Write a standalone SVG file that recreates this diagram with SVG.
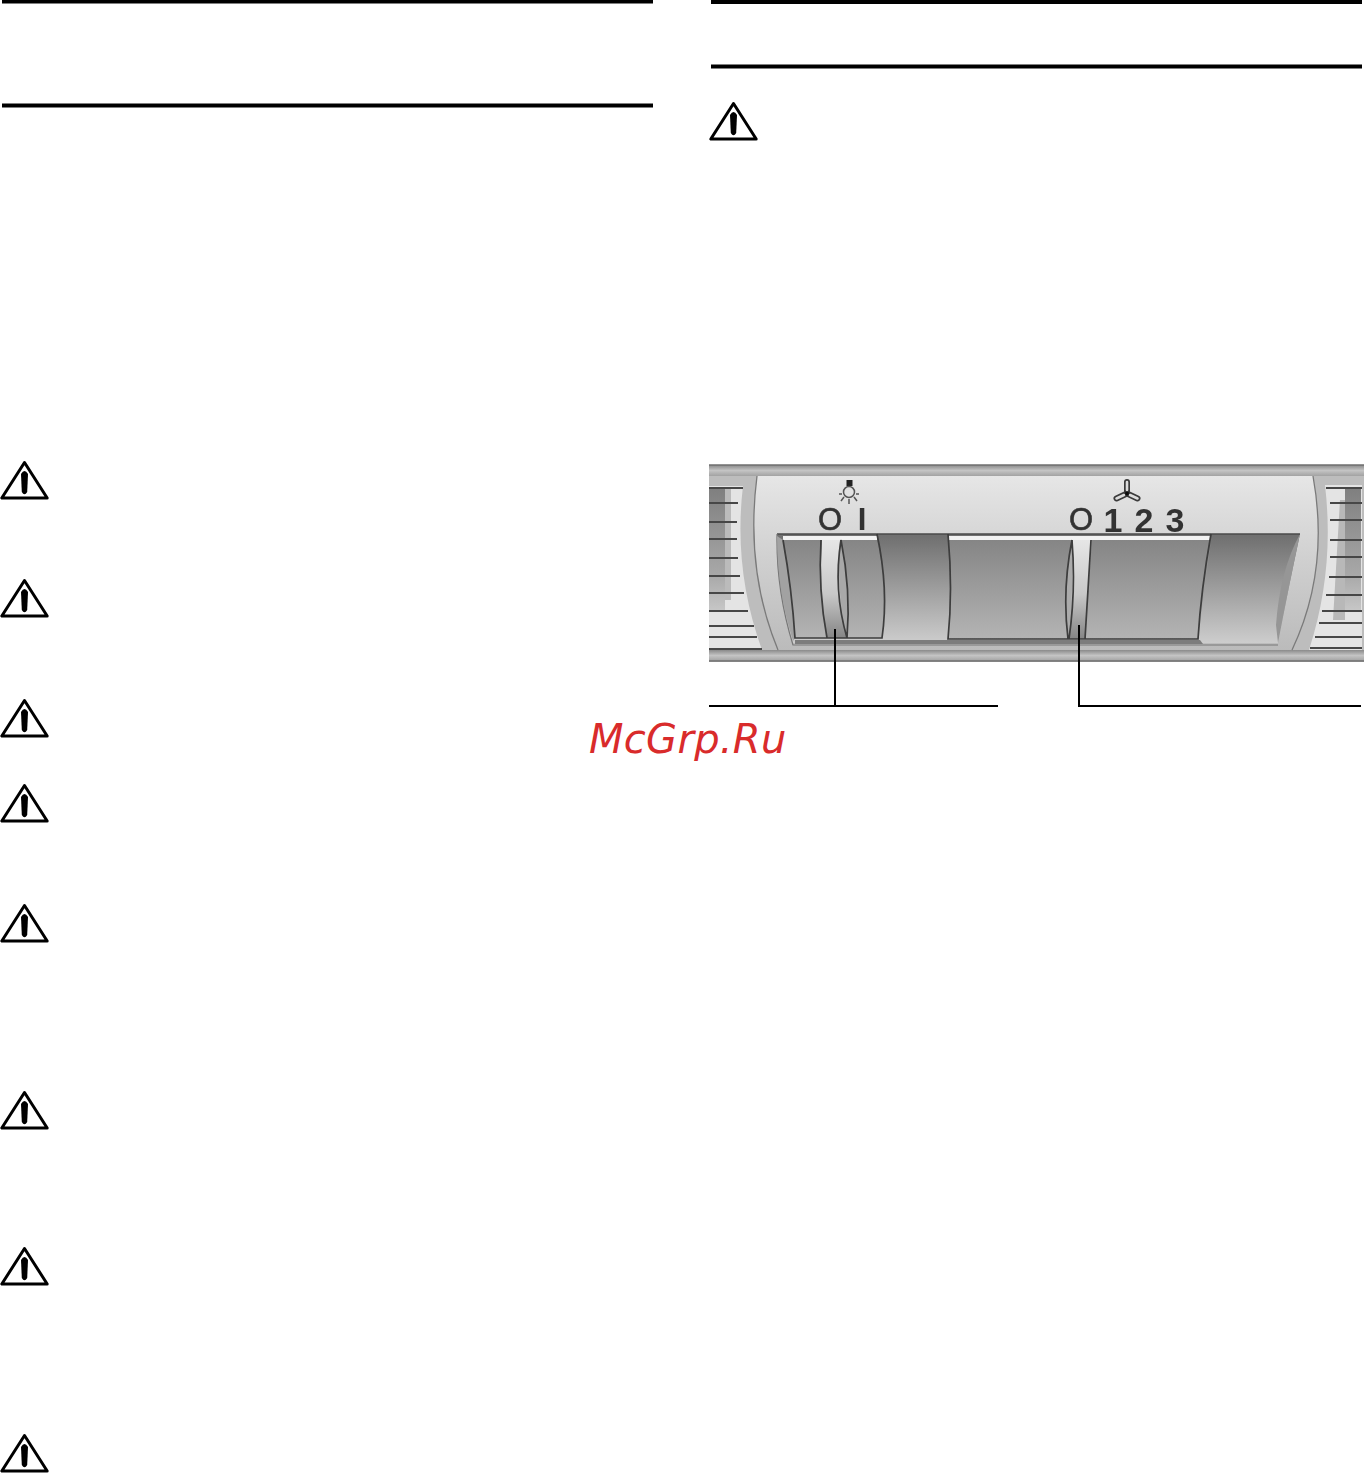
<svg xmlns="http://www.w3.org/2000/svg" xmlns:xlink="http://www.w3.org/1999/xlink" width="1364" height="1475" viewBox="0 0 1364 1475">
<style>
.rule{stroke:#000;stroke-width:4;fill:none}
.lead{stroke:#000;stroke-width:2;fill:none}
.edge{stroke:#3c3c3c;stroke-width:1.7;fill:none}
.slat{stroke:#464646;stroke-width:2.1;fill:none}
.ring{stroke:#7a7a7a;stroke-width:1.3;fill:none}
.sym{font-family:"Liberation Sans",Arial,sans-serif;fill:#333;font-size:31px;text-anchor:middle}
.num{font-size:34px;font-weight:bold}
.mark{font-family:"DejaVu Sans",sans-serif;font-style:oblique;font-size:40px;fill:#d92b2b}
</style>
<defs>
<g id="warn">
<path d="M24.5 2.5 L1.8 38 H47.2 Z" fill="#fff" stroke="#000" stroke-width="3" stroke-linejoin="round"/>
<path d="M21 14 Q24.5 8 28 14 L27.2 32 Q24.5 36.5 21.8 32 Z" fill="#000"/>
</g>
<linearGradient id="band" x1="0" y1="0" x2="0" y2="1"><stop offset="0" stop-color="#8a8a8a"/><stop offset=".5" stop-color="#c4c4c4"/><stop offset="1" stop-color="#a2a2a2"/></linearGradient>
<linearGradient id="face" x1="0" y1="0" x2="0" y2="1"><stop offset="0" stop-color="#e6e6e6"/><stop offset=".5" stop-color="#cfcfcf"/><stop offset="1" stop-color="#bbb"/></linearGradient>
<linearGradient id="slot" x1="0" y1="0" x2="0" y2="1"><stop offset="0" stop-color="#6e6e6e"/><stop offset="1" stop-color="#cdcdcd"/></linearGradient>
<linearGradient id="key" x1="0" y1="0" x2="0" y2="1"><stop offset="0" stop-color="#858585"/><stop offset="1" stop-color="#b4b4b4"/></linearGradient>
<linearGradient id="slide" x1="0" y1="0" x2="0" y2="1"><stop offset="0" stop-color="#e6e6e6"/><stop offset=".55" stop-color="#c8c8c8"/><stop offset="1" stop-color="#858585"/></linearGradient>
<linearGradient id="ventDark" x1="0" y1="0" x2="0" y2="1"><stop offset="0" stop-color="#7f7f7f"/><stop offset=".7" stop-color="#a8a8a8"/><stop offset="1" stop-color="#c8c8c8"/></linearGradient>
<filter id="soft" x="-2%" y="-2%" width="104%" height="104%"><feGaussianBlur stdDeviation="0.7"/></filter>
</defs>
<rect width="1364" height="1475" fill="#fff"/>
<g id="rules">
<path class="rule" d="M2 1.5H653M2 105.5H653M711 2H1362M711 66.5H1362"/>
</g>
<g id="warnings">
<use xlink:href="#warn" href="#warn" x="0" y="460"/>
<use xlink:href="#warn" href="#warn" x="0" y="578"/>
<use xlink:href="#warn" href="#warn" x="0" y="698"/>
<use xlink:href="#warn" href="#warn" x="0" y="783"/>
<use xlink:href="#warn" href="#warn" x="0" y="903"/>
<use xlink:href="#warn" href="#warn" x="0" y="1090"/>
<use xlink:href="#warn" href="#warn" x="0" y="1246"/>
<use xlink:href="#warn" href="#warn" x="0" y="1433"/>
<use xlink:href="#warn" href="#warn" x="709" y="101"/>
</g>
<g id="panel" filter="url(#soft)">
<rect x="709" y="465" width="655" height="197" fill="#bdbdbd"/>
<rect x="709" y="465" width="655" height="11" fill="url(#band)"/>
<rect x="709" y="650" width="655" height="11" fill="url(#band)"/>
<path d="M709 465H1364M709 661H1364" stroke="#707070" stroke-width="1.5"/>
<path id="face-plate" d="M757 476 H1313 Q1330 570 1292 650 H778 Q745 570 757 476Z" fill="url(#face)"/>
<path class="ring" d="M757 476 Q745 570 778 650M1313 476 Q1330 570 1292 650"/>
<g id="vent-left">
<path d="M709 486H743Q733 570 762 650H709Z" fill="#e4e4e4"/>
<path d="M709 488H725V612H709Z" fill="url(#ventDark)"/>
<path d="M725 488H731V600H725Z" fill="#bbb"/>
<path class="slat" d="M709 488H743M709 503H738M709 522H737M709 539H737M709 558H738M709 576H740M709 593H744M709 611H748M709 626H754M709 637H757M709 649H762"/>
</g>
<g id="vent-right">
<path d="M1325 485H1362V650H1309Q1335 570 1325 485Z" fill="#e4e4e4"/>
<path d="M1345 488H1361V612H1345Z" fill="url(#ventDark)"/>
<path d="M1340 500H1345V620H1333Z" fill="#b8b8b8"/>
<path class="slat" d="M1326 488H1362M1330 503H1362M1330 520H1362M1330 540H1362M1330 557H1362M1329 577H1362M1326 595H1362M1322 611H1362M1319 623H1362M1315 637H1362M1310 648H1362"/>
</g>
<g id="slot-recess">
<path d="M777 534H1300Q1288 590 1278 643H793Q776 590 777 534Z" fill="url(#slot)"/>
<path d="M1300 534Q1280 570 1276 625L1278 643Q1288 590 1300 534Z" fill="#969696"/>
<path d="M795 640H1200L1203 644H795Z" fill="#7c7c7c"/>
<path d="M777 534H1300" stroke="#4a4a4a" stroke-width="1.6"/>
<path d="M777 534Q776 590 793 645H1278" fill="none" stroke="#777" stroke-width="1.2"/>
</g>
<g id="switch-light">
<path d="M783 540H877Q889 590 882 638H795Q792 590 783 540Z" fill="url(#key)"/>
<path d="M777 536Q777 590 793 641L795 638Q792 590 783 540Z" fill="#a2a2a2"/>
<path d="M841 540Q833 590 847 638Q851 590 841 540Z" fill="#a8a8a8"/>
<path d="M822 540H840Q836 590 847 638H827Q818 590 822 540Z" fill="url(#slide)"/>
<rect x="783" y="536" width="94" height="4" fill="#f2f2f2"/>
<path class="edge" d="M783 540Q792 590 795 638H882Q889 590 877 534M821 540Q818 590 827 638M841 540Q833 590 847 638Q851 590 841 540"/>
</g>
<g id="switch-fan">
<path d="M948 540H1211L1198 639H948Q953 590 948 540Z" fill="url(#key)"/>
<path d="M1072 540Q1062 590 1068 639H1085L1092 540Z" fill="#ababab"/>
<path d="M1073 540H1091L1085 639H1069Q1073 590 1073 540Z" fill="url(#slide)"/>
<rect x="948" y="536" width="263" height="4" fill="#f2f2f2"/>
<path class="edge" d="M948 534Q953 590 948 639H1198Q1201 590 1211 534M1072 540Q1062 590 1068 639M1072 540Q1076 590 1069 639M1091 540L1085 639"/>
</g>
<g id="lamp-icon" fill="none" stroke="#555" stroke-width="1.5">
<rect x="846.5" y="480" width="6" height="6" fill="#222" stroke="none"/>
<circle cx="849" cy="492" r="5.5"/>
<path d="M841 501L844 497M849 504V499M857 501L854 497M839 494H842M856 494H859"/>
</g>
<g id="fan-icon" fill="none" stroke-linecap="round">
<path d="M1127 493.5V482M1127 493.5L1116.5 498.5M1127 493.5L1137.5 498.5" stroke="#3a3a3a" stroke-width="6"/>
<path d="M1127 490V482M1124 495L1116.5 498.5M1130 495L1137.5 498.5" stroke="#dcdcdc" stroke-width="2.6"/>
<circle cx="1127" cy="493.5" r="2" fill="#111"/>
</g>
<text class="sym" x="830" y="530" stroke="#333" stroke-width=".6">O</text>
<text class="sym" x="862" y="530" font-weight="bold">I</text>
<text class="sym" x="1081" y="530" stroke="#333" stroke-width=".6">O</text>
<text class="sym num" x="1113" y="532">1</text>
<text class="sym num" x="1144" y="532">2</text>
<text class="sym num" x="1175" y="532">3</text>
</g>
<g id="connectors">
<path class="lead" d="M835 629V706M709 706H998"/>
<path class="lead" d="M1079 625V706H1361"/>
</g>
<text class="mark" x="589" y="753" letter-spacing=".3">McGrp.Ru</text>
</svg>
